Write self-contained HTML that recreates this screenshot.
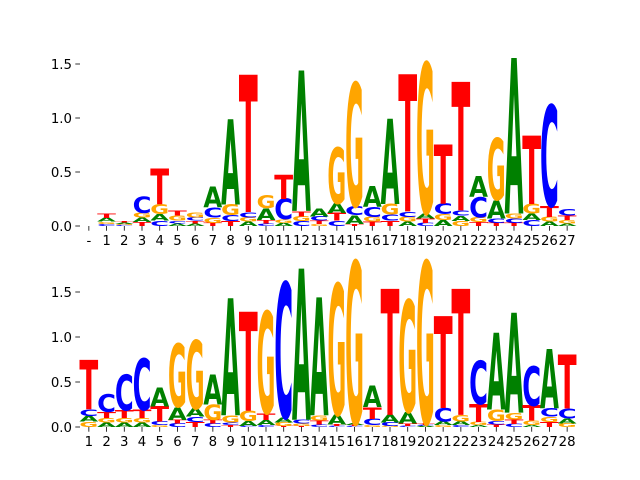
<!DOCTYPE html>
<html><head><meta charset="utf-8"><style>
html,body{margin:0;padding:0;background:#fff;width:640px;height:480px;overflow:hidden}
svg{display:block}
text{font-family:"DejaVu Sans","Liberation Sans",sans-serif}
</style></head><body>
<svg id="chart" width="640" height="480" viewBox="0 0 640 480">
<g id="top"></g>
<g id="bottom"></g>
</svg>
<script>
const topLabels = ['-','1','2','3','4','5','6','7','8','9','10','11','12','13','14','15','16','17','18','19','20','21','22','23','24','25','26','27'];
const topA = [0,.035,.012,.04,.06,.025,.025,.19,.79,.04,.11,.03,1.3,.07,.09,.08,.19,.79,.04,.05,.055,.05,.19,.17,1.44,.06,.04,.025];
const topC = [0,.02,.01,.15,.05,.025,.03,.09,.055,.05,.025,.19,.045,.04,.05,.085,.09,.055,.05,.03,.1,.05,.185,.04,.04,.055,.935,.06];
const topG = [0,.02,.01,.045,.09,.045,.05,.05,.1,.04,.12,.03,.045,.02,.52,1.14,.045,.1,.045,1.39,.055,.045,.05,.57,.046,.09,.045,.03];
const topT = [0,.04,.012,.037,.333,.045,.025,.03,.046,1.27,.03,.22,.05,.03,.07,.02,.04,.05,1.27,.04,.55,1.19,.035,.03,.03,.63,.1,.04];
const botLabels = ['1','2','3','4','5','6','7','8','9','10','11','12','13','14','15','16','17','18','19','20','21','22','23','24','25','26','27','28'];
const botA = [.063,.05,.05,.05,.21,.14,.09,.33,1.3,.055,.06,.055,1.68,1.31,.11,.02,.24,.085,.13,.01,.04,.04,.02,.85,1.11,.02,.66,.055];
const botC = [.074,.2,.4,.57,.04,.04,.06,.04,.03,.01,.02,1.5,.04,.03,.01,.01,.07,.04,.01,.01,.15,.02,.48,.035,.035,.44,.09,.11];
const botG = [.06,.05,.05,.05,.02,.7,.76,.17,.08,.115,1.13,.04,.03,.06,1.45,1.8,.02,.01,1.24,1.8,.02,.075,.035,.13,.075,.05,.06,.04];
const botT = [.55,.067,.085,.09,.17,.04,.055,.04,.02,1.1,.075,.01,.01,.04,.02,.01,.13,1.4,.03,.02,1.02,1.4,.2,.03,.05,.17,.055,.6];
const yTicks = [0, 0.5, 1.0, 1.5];
const yTickLabels = ['0.0','0.5','1.0','1.5'];

const NS = 'http://www.w3.org/2000/svg';
const colors = {A:'#008000', C:'#0000ff', G:'#ffa500', T:'#ff0000'};

function panel(g, y0, pxPerUnit, labels, A, C, G, T, prefix) {
  const left = 80, right = 576, n = labels.length;
  const colW = (right - left) / n;
  const xs = i => left + (i + 0.5) * colW;
  const ys = v => y0 - v * pxPerUnit;
  yTicks.forEach((t, k) => {
    const l = document.createElementNS(NS, 'line');
    l.setAttribute('x1', left - 4.7); l.setAttribute('x2', left);
    l.setAttribute('y1', ys(t)); l.setAttribute('y2', ys(t));
    l.setAttribute('stroke', '#000'); l.setAttribute('stroke-width', '0.8');
    
    
    g.appendChild(l);
    const tx = document.createElementNS(NS, 'text');
    tx.setAttribute('x', left - 8); tx.setAttribute('y', ys(t) + 4.8);
    tx.setAttribute('text-anchor', 'end'); tx.setAttribute('font-size', '13.3');
    tx.textContent = yTickLabels[k];
    
    
    g.appendChild(tx);
  });
  for (let i = 0; i < n; i++) {
    const stack = [['A', A[i]], ['C', C[i]], ['G', G[i]], ['T', T[i]]].sort((a, b) => a[1] - b[1]);
    let base = 0;
    const w = colW * 0.95;
    stack.forEach(([ch, v]) => {
      if (v <= 0) return;
      const h = v * pxPerUnit;
      const yb = ys(base);
      const t = document.createElementNS(NS, 'text');
      t.setAttribute('x', 0); t.setAttribute('y', 0);
      t.setAttribute('font-size', '100'); t.setAttribute('font-weight', 'bold');
      t.setAttribute('textLength', (w * 1.12).toFixed(2));
      t.setAttribute('lengthAdjust', 'spacingAndGlyphs');
      t.setAttribute('fill', colors[ch]);
      t.setAttribute('transform', 'translate(' + (xs(i) - w * 0.56).toFixed(2) + ',' + yb.toFixed(2) + ') scale(1,' + (h / 72.9).toFixed(5) + ')');
      t.textContent = ch;
      
      
      g.appendChild(t);
      base += v;
    });
    const l = document.createElementNS(NS, 'line');
    l.setAttribute('x1', xs(i)); l.setAttribute('x2', xs(i));
    l.setAttribute('y1', y0); l.setAttribute('y2', y0 + 4.7);
    l.setAttribute('stroke', '#000'); l.setAttribute('stroke-width', '0.8');
    
    
    g.appendChild(l);
    const tx = document.createElementNS(NS, 'text');
    tx.setAttribute('x', xs(i)); tx.setAttribute('y', y0 + 19);
    tx.setAttribute('text-anchor', 'middle'); tx.setAttribute('font-size', '13.3');
    tx.textContent = labels[i];
    
    
    g.appendChild(tx);
  }
}
panel(document.getElementById('top'), 226, 108, topLabels, topA, topC, topG, topT, 'top');
panel(document.getElementById('bottom'), 427, 90, botLabels, botA, botC, botG, botT, 'bottom');
</script>
</body></html>
